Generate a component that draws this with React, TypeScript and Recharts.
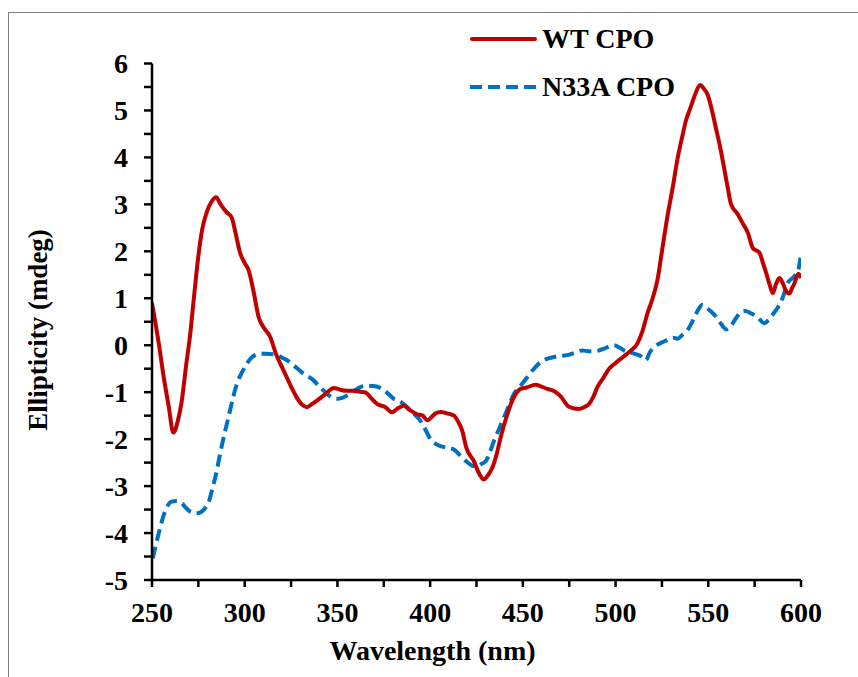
import React from 'react';
import { LineChart, Line, XAxis, YAxis } from 'recharts';

const wtWavelength = [250, 254, 256, 259, 261.5, 264, 266, 268.5, 270.5, 272.5, 275, 277, 279.5, 282, 284.6, 287, 290.3, 293, 295, 297.5, 300, 302, 305, 307.5, 310, 313.7, 317, 321, 325, 328, 331, 333.6, 336, 339, 343.5, 348, 351.6, 355, 358.8, 362, 365, 367.8, 371.4, 375.9, 379.5, 382, 385.8, 389, 393, 396, 398.4, 401, 403, 405.6, 409, 412.8, 415, 417.3, 419.5, 423.6, 426, 429, 431, 433.5, 436, 438, 441, 444.3, 448.8, 452, 456.9, 460, 463.2, 467, 470.4, 474.9, 480.3, 483, 485.7, 488, 490.2, 493, 496.5, 500, 503.7, 508, 511.8, 514.5, 517.2, 520, 522.6, 525, 528, 531, 533.4, 536, 538, 540.6, 543, 545.5, 547.5, 549.7, 552, 554.2, 556.5, 558.6, 560.5, 562.3, 565.9, 568.5, 571.3, 574, 577.6, 579.5, 581.2, 583, 584.8, 586.5, 588.4, 590.2, 592, 593.8, 595, 596.5, 598.5, 599.2, 600];
const wtValues = [0.9, -0.05, -0.6, -1.3, -1.86, -1.6, -1.2, -0.4, 0.2, 0.97, 1.9, 2.45, 2.83, 3.05, 3.15, 3.0, 2.83, 2.72, 2.4, 1.97, 1.75, 1.61, 1.1, 0.6, 0.39, 0.18, -0.2, -0.54, -0.88, -1.11, -1.27, -1.32, -1.26, -1.18, -1.04, -0.91, -0.95, -0.97, -0.97, -0.99, -1.0, -1.11, -1.25, -1.32, -1.43, -1.36, -1.29, -1.38, -1.47, -1.5, -1.6, -1.52, -1.45, -1.42, -1.45, -1.5, -1.62, -1.82, -2.18, -2.47, -2.7, -2.86, -2.78, -2.61, -2.3, -1.97, -1.55, -1.18, -0.93, -0.9, -0.84, -0.88, -0.93, -0.98, -1.09, -1.31, -1.36, -1.32, -1.25, -1.1, -0.89, -0.72, -0.5, -0.38, -0.26, -0.12, 0.04, 0.3, 0.68, 1.0, 1.39, 2.0, 2.75, 3.4, 3.97, 4.45, 4.79, 5.08, 5.35, 5.54, 5.47, 5.33, 5.0, 4.61, 4.2, 3.76, 3.35, 3.0, 2.79, 2.6, 2.4, 2.07, 1.97, 1.75, 1.54, 1.3, 1.11, 1.3, 1.43, 1.32, 1.15, 1.1, 1.2, 1.32, 1.52, 1.5, 1.43];

const n33aWavelength = [250.4, 253.4, 257, 260.6, 263, 266, 268, 270.5, 274, 276.5, 278.6, 280.5, 282.2, 284.5, 286.7, 289, 291.2, 293.5, 295.8, 298.5, 301.2, 303.5, 305.6, 309, 312, 315, 317.4, 320, 322.8, 327, 331.8, 337.2, 340, 343.5, 346.5, 349.8, 352.5, 355.2, 358, 360.6, 363, 366, 369.5, 373.2, 377, 380.4, 384, 387.6, 391, 394.8, 397.5, 400.2, 403, 405.6, 409, 412.8, 415.5, 418.2, 421, 423.6, 425.4, 428, 430, 432.2, 434.4, 437, 439.8, 442.5, 445.2, 449, 452.4, 456, 459.6, 463, 466.8, 470.5, 474, 478, 482.1, 486, 490.2, 494.5, 499.2, 502, 504.6, 507.5, 510, 513, 516.3, 518.5, 520.8, 524.5, 528, 531, 533.4, 536, 538.8, 542, 544.5, 546.9, 549, 551.5, 554.1, 557, 559.5, 562, 565, 567.6, 570, 573, 576.5, 580.2, 584, 587.4, 590, 592.8, 596.5, 598.5, 600];
const n33aValues = [-4.54, -4.04, -3.54, -3.33, -3.32, -3.36, -3.45, -3.54, -3.58, -3.55, -3.47, -3.35, -3.11, -2.75, -2.32, -1.9, -1.54, -1.15, -0.82, -0.58, -0.39, -0.27, -0.21, -0.18, -0.18, -0.19, -0.21, -0.26, -0.32, -0.45, -0.61, -0.75, -0.87, -1.0, -1.1, -1.14, -1.12, -1.07, -1.0, -0.93, -0.88, -0.86, -0.87, -0.91, -1.02, -1.14, -1.2, -1.32, -1.45, -1.61, -1.8, -2.0, -2.1, -2.15, -2.18, -2.22, -2.32, -2.43, -2.52, -2.58, -2.58, -2.52, -2.47, -2.28, -2.04, -1.8, -1.54, -1.28, -1.04, -0.85, -0.68, -0.5, -0.36, -0.29, -0.25, -0.23, -0.21, -0.16, -0.11, -0.13, -0.12, -0.06, 0.0, -0.05, -0.11, -0.15, -0.18, -0.22, -0.32, -0.15, -0.04, 0.05, 0.11, 0.16, 0.14, 0.22, 0.32, 0.55, 0.75, 0.86, 0.8, 0.72, 0.61, 0.45, 0.34, 0.4, 0.58, 0.71, 0.73, 0.68, 0.6, 0.47, 0.62, 0.8, 1.0, 1.32, 1.47, 1.6, 1.93];

const xTicks = [250, 275, 300, 325, 350, 375, 400, 425, 450, 475, 500, 525, 550, 575, 600];
const yTicks = [-5, -4.5, -4, -3.5, -3, -2.5, -2, -1.5, -1, -0.5, 0, 0.5, 1, 1.5, 2, 2.5, 3, 3.5, 4, 4.5, 5, 5.5, 6];

const seriesNames = ['WT CPO', 'N33A CPO'];
const xTitle = 'Wavelength (nm)';
const yTitle = 'Ellipticity (mdeg)';

const wtData = wtWavelength.map((w, i) => ({ w, v: wtValues[i] }));
const n33aData = n33aWavelength.map((w, i) => ({ w, v: n33aValues[i] }));

const FONT = '"Liberation Serif", "Times New Roman", serif';
const RED = '#c00000';
const BLUE = '#0070c0';

const LegendBox = () => (
  <svg width={240} height={90} style={{ display: 'block' }}>
    <line x1={12} y1={19} x2={75} y2={19} stroke={RED} strokeWidth={4} strokeLinecap="round" />
    <text x={82} y={28} fontFamily={FONT} fontWeight="bold" fontSize={28} fill="#000">{seriesNames[0]}</text>
    <line x1={10} y1={67} x2={76} y2={67} stroke={BLUE} strokeWidth={4} strokeDasharray="12 6" />
    <text x={82} y={76} fontFamily={FONT} fontWeight="bold" fontSize={28} fill="#000">{seriesNames[1]}</text>
  </svg>
);

export default function App() {
  const tickStyle = { fontFamily: FONT, fontWeight: 'bold', fontSize: 28, fill: '#000' } as any;
  return (
    <div style={{ position: 'absolute', left: 0, top: 0, width: 858, height: 677, overflow: 'hidden', background: '#fff' }}>
      <div style={{ position: 'absolute', left: 8, top: 12, width: 900, height: 720, border: '1px solid #808080' }} />
      <div style={{ position: 'absolute', left: 0, top: 0 }}>
        <LineChart width={858} height={677} margin={{ top: 63.5, right: 57, bottom: 37, left: 52 }}>
          <XAxis
            dataKey="w"
            type="number"
            domain={[250, 600]}
            ticks={xTicks}
            allowDataOverflow
            height={60}
            tickSize={7}
            tickMargin={15}
            tick={tickStyle}
            tickFormatter={(v: number) => (v % 50 === 0 ? String(v) : '')}
            axisLine={{ stroke: '#000', strokeWidth: 2.5 }}
            tickLine={{ stroke: '#000', strokeWidth: 2.5 }}
            interval={0}
            label={{
              content: (props: any) => {
                const vb = props.viewBox || {};
                return (
                  <text x={vb.x + vb.width / 2 - 44} y={660} textAnchor="middle" fontFamily={FONT} fontWeight="bold" fontSize={28} fill="#000">
                    {xTitle}
                  </text>
                );
              },
            }}
          />
          <YAxis
            type="number"
            domain={[-5, 6]}
            ticks={yTicks}
            width={100}
            tickSize={8}
            tickMargin={16}
            tick={tickStyle}
            tickFormatter={(v: number) => (Number.isInteger(v) ? String(v) : '')}
            axisLine={{ stroke: '#000', strokeWidth: 2.5 }}
            tickLine={{ stroke: '#000', strokeWidth: 2.5 }}
            interval={0}
            label={{
              content: (props: any) => {
                const vb = props.viewBox || {};
                const cx = vb.x - 5;
                const cy = 330;
                return (
                  <text x={cx} y={cy} transform={`rotate(-90, ${cx}, ${cy})`} textAnchor="middle" fontFamily={FONT} fontWeight="bold" fontSize={27} fill="#000">
                    {yTitle}
                  </text>
                );
              },
            }}
          />
          <Line data={n33aData} dataKey="v" name={seriesNames[1]} type="monotone" stroke={BLUE} strokeWidth={4} strokeDasharray="12 6" dot={false} isAnimationActive={false} />
          <Line data={wtData} dataKey="v" name={seriesNames[0]} type="monotone" stroke={RED} strokeWidth={4} dot={false} isAnimationActive={false} />
        </LineChart>
      </div>
      <div style={{ position: 'absolute', left: 460, top: 20 }}>
        <LegendBox />
      </div>
    </div>
  );
}
